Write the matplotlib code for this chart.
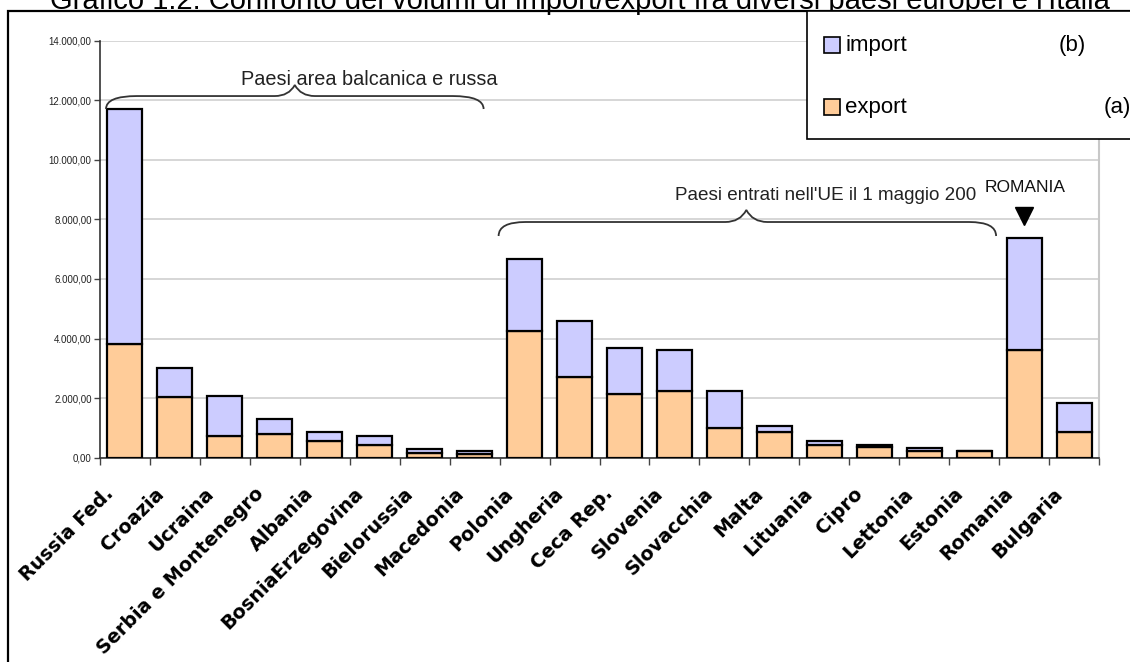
import matplotlib
matplotlib.use("Agg")
import matplotlib.pyplot as plt
import matplotlib.patches as mpatches
from matplotlib.path import Path
from matplotlib.transforms import ScaledTranslation
import numpy as np

# valori di import/export per paese
paesi = ["Russia Fed.", "Croazia", "Ucraina", "Serbia e Montenegro", "Albania",
         "BosniaErzegovina", "Bielorussia", "Macedonia", "Polonia", "Ungheria",
         "Ceca Rep.", "Slovenia", "Slovacchia", "Malta", "Lituania", "Cipro",
         "Lettonia", "Estonia", "Romania", "Bulgaria"]
export = [3810, 2050, 730, 790, 560, 430, 170, 115, 4250, 2710,
          2150, 2230, 990, 860, 415, 350, 220, 210, 3620, 865]
importazioni = [7910, 970, 1350, 510, 300, 300, 125, 110, 2430, 1890,
                1540, 1400, 1250, 205, 155, 70, 90, 20, 3770, 985]
y_ticks = [0, 2000, 4000, 6000, 8000, 10000, 12000, 14000]

titolo = "Grafico 1.2: Confronto dei volumi di import/export fra diversi paesi europei e l'Italia"

W, H = 1130, 662
plt.rcParams['font.family'] = ['Liberation Sans', 'DejaVu Sans']

def fx(px):
    return px / W

def fy(py):
    return 1 - py / H

fig = plt.figure(figsize=(W / 100, H / 100), dpi=100)
ax = fig.add_axes([fx(100), fy(457.7), fx(1099) - fx(100), fy(40.7) - fy(457.7)])

x = np.arange(len(paesi))
ax.bar(x, export, 0.7, color='#FFCC99', edgecolor='black', linewidth=1.6, zorder=3)
ax.bar(x, importazioni, 0.7, bottom=export, color='#CCCCFF', edgecolor='black',
       linewidth=1.6, zorder=3)

ax.set_xlim(-0.5, len(paesi) - 0.5)
ax.set_ylim(0, 14000)

def formato(v):
    s = f"{v:,.2f}"
    return s.replace(',', 'X').replace('.', ',').replace('X', '.')

ax.set_yticks(y_ticks)
ax.set_yticklabels([formato(v) for v in y_ticks], fontsize=7, color='#222222')
ax.tick_params(axis='y', length=4, width=1, color='#444444', pad=2)
ax.grid(axis='y', color='#cfcfcf', linewidth=1.2, zorder=0)

ax.set_xticks(x)
ax.set_xticklabels(paesi, rotation=45, ha='right', rotation_mode='anchor',
                   fontsize=13.8, fontweight='bold', family='DejaVu Sans')
ax.tick_params(axis='x', which='major', length=0, pad=19)
ax.set_xticks(np.arange(-0.5, len(paesi), 1), minor=True)
ax.tick_params(axis='x', which='minor', length=5, width=1, color='#444444')
for lab in ax.get_xticklabels():
    lab.set_transform(lab.get_transform() + ScaledTranslation(-0.21, 0, fig.dpi_scale_trans))

for s in ['left', 'bottom']:
    ax.spines[s].set_color('#333333')
    ax.spines[s].set_linewidth(1.2)
ax.spines['top'].set_visible(False)
ax.spines['right'].set_color('#c8c8c8')
ax.spines['right'].set_linewidth(1.5)


def graffa(x0, x1, xm, dx, dm, y_end, y_line, y_peak):
    verts = [(x0, y_end), (x0, y_line), (x0 + dx, y_line),
             (xm - dm, y_line),
             (xm - dm * 0.3, y_line), (xm, y_peak),
             (xm + dm * 0.3, y_line), (xm + dm, y_line),
             (x1 - dx, y_line),
             (x1, y_line), (x1, y_end)]
    codes = [Path.MOVETO, Path.CURVE3, Path.CURVE3, Path.LINETO,
             Path.CURVE3, Path.CURVE3, Path.CURVE3, Path.CURVE3,
             Path.LINETO, Path.CURVE3, Path.CURVE3]
    ax.add_patch(mpatches.PathPatch(Path(verts, codes), facecolor='none',
                                    edgecolor='#333333', linewidth=1.3,
                                    clip_on=False, zorder=5))

graffa(-0.38, 7.18, 3.4, 0.62, 0.4, 11707, 12142, 12512)
graffa(7.48, 17.44, 12.44, 0.54, 0.42, 7443, 7913, 8317)

ax.text(4.9, 12512, "Paesi area balcanica e russa", ha='center', va='baseline',
        fontsize=14.3, color='#222222', zorder=6)
ax.text(11.02, 8650, "Paesi entrati nell'UE il 1 maggio 200", ha='left', va='baseline',
        fontsize=13.6, color='#222222', zorder=6)
ax.text(18.03, 8915, "ROMANIA", ha='center', va='baseline', fontsize=12.5,
        color='#111111', zorder=6)
ax.plot([18], [8100], marker='v', markersize=13, color='black', clip_on=False, zorder=6)

# cornice esterna
fig.patches.append(mpatches.Rectangle((fx(8), fy(675)), fx(1140) - fx(8), fy(11) - fy(675),
                                      transform=fig.transFigure, fill=False,
                                      edgecolor='black', linewidth=1.6, zorder=0))

fig.text(fx(580), fy(9), titolo, ha='center', va='baseline', fontsize=21, color='black')

# legenda
fig.patches.append(mpatches.Rectangle((fx(807), fy(139)), fx(1140) - fx(807), fy(11) - fy(139),
                                      transform=fig.transFigure, facecolor='white',
                                      edgecolor='black', linewidth=1.2, zorder=10))
for py, colore, nome, lettera, lx in [(45, '#CCCCFF', 'import', '(b)', 1059),
                                       (107, '#FFCC99', 'export', '(a)', 1104)]:
    fig.patches.append(mpatches.Rectangle((fx(824), fy(py + 8)), fx(840) - fx(824),
                                          fy(py - 8) - fy(py + 8),
                                          transform=fig.transFigure, facecolor=colore,
                                          edgecolor='black', linewidth=1.2, zorder=11))
    fig.text(fx(845), fy(py), nome, ha='left', va='center', fontsize=16, zorder=12)
    fig.text(fx(lx), fy(py), lettera, ha='left', va='center', fontsize=16, zorder=12)

fig.savefig("out.png", dpi=100)
